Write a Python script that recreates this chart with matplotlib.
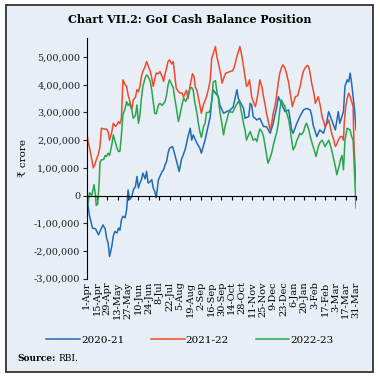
import numpy as np
import matplotlib
matplotlib.use("Agg")
import matplotlib.pyplot as plt
from matplotlib.patches import Rectangle
from matplotlib.ticker import FuncFormatter

# days counted from 1-Apr, values in lakh crore
tick_labels = ["1-Apr", "15-Apr", "29-Apr", "13-May", "27-May", "10-Jun", "24-Jun",
               "8-Jul", "22-Jul", "5-Aug", "19-Aug", "2-Sep", "16-Sep", "30-Sep",
               "14-Oct", "28-Oct", "11-Nov", "25-Nov", "9-Dec", "23-Dec", "6-Jan",
               "20-Jan", "3-Feb", "17-Feb", "3-Mar", "17-Mar", "31-Mar"]
tick_days = [0, 14, 28, 42, 56, 70, 84, 98, 112, 126, 140, 154, 168, 182, 196,
             210, 224, 238, 252, 266, 280, 294, 308, 322, 336, 350, 364]

days_2021 = [0, 2, 4, 8, 12, 16, 20, 22, 25, 27, 29, 31, 34, 36, 38, 41, 43, 45, 47, 49,
             52, 54, 56, 58, 61, 63, 66, 68, 70, 72, 74, 76, 79, 81, 83, 86, 88, 90, 92,
             94, 97, 99, 102, 104, 106, 108, 110, 112, 116, 118, 121, 125, 128, 133, 137,
             140, 142, 144, 149, 153, 155, 160, 162, 167, 169, 171, 174, 178, 180, 185,
             189, 194, 198, 203, 205, 207, 212, 214, 219, 221, 223, 225, 230, 234, 239,
             243, 248, 252, 257, 259, 263, 268, 273, 277, 279, 284, 288, 293, 297, 302,
             304, 306, 311, 315, 320, 324, 327, 331, 336, 340, 342, 347, 349, 352, 354,
             356, 358, 360, 362, 364]
vals_2021 = [0.3, -0.4, -0.75, -1.18, -1.2, -1.42, -1.18, -1.06, -1.2, -1.54, -1.71, -2.2,
             -1.83, -1.47, -1.3, -1.35, -1.18, -1.25, -0.88, -0.75, -0.8, -0.51, 0.2, -0.15,
             -0.05, 0.2, 0.33, 0.69, 0.27, 0.45, 0.57, 0.81, 0.6, 0.87, 0.45, 0.51, 0.57,
             0.27, 0.15, -0.08, 0.57, 0.69, 0.87, 0.93, 1.11, 1.23, 1.53, 1.71, 1.77, 1.59,
             1.29, 0.87, 1.29, 1.65, 2.13, 2.43, 2.0, 2.19, 1.89, 1.71, 1.53, 2.0, 2.25,
             2.85, 3.45, 3.82, 3.7, 3.57, 3.27, 2.97, 3.03, 3.09, 3.2, 3.82, 3.5, 3.4, 3.15,
             2.79, 2.85, 3.33, 3.27, 2.85, 2.73, 2.79, 2.49, 2.49, 2.25, 2.61, 3.21, 3.57,
             3.33, 3.03, 3.09, 2.37, 2.25, 2.61, 2.85, 3.09, 3.15, 3.09, 2.9, 2.55, 2.13,
             2.37, 2.25, 2.61, 3.03, 2.73, 2.37, 3.03, 2.61, 3.03, 3.94, 4.18, 4.1, 4.42,
             4.06, 3.57, 3.09, 2.37]

days_2122 = [0, 2, 4, 7, 9, 11, 13, 16, 18, 20, 24, 27, 29, 31, 34, 36, 39, 41, 43, 45,
             47, 49, 52, 54, 56, 58, 61, 63, 66, 68, 70, 72, 74, 76, 79, 81, 83, 86, 88,
             90, 92, 94, 97, 99, 102, 104, 106, 108, 110, 112, 115, 117, 119, 121, 124,
             126, 129, 131, 133, 135, 137, 140, 143, 145, 147, 149, 152, 155, 158, 162,
             165, 167, 169, 172, 174, 176, 178, 181, 183, 186, 188, 191, 194, 197, 199,
             201, 203, 205, 207, 210, 212, 214, 216, 218, 220, 223, 225, 228, 231, 234,
             237, 239, 241, 243, 246, 248, 250, 252, 255, 257, 259, 261, 263, 265, 268,
             270, 273, 275, 278, 280, 282, 285, 287, 289, 291, 293, 295, 298, 300, 302,
             304, 307, 309, 311, 313, 316, 318, 320, 322, 325, 327, 329, 331, 334, 336,
             338, 340, 343, 345, 347, 348, 350, 352, 354, 356, 358, 360, 361, 362, 364]
vals_2122 = [2.31, 1.95, 1.71, 1.3, 1.0, 1.1, 1.29, 1.5, 1.77, 2.43, 2.4, 2.4, 2.31, 2.0,
             2.3, 2.61, 2.5, 2.55, 2.67, 2.6, 2.79, 4.18, 4.0, 3.94, 3.63, 3.45, 3.1, 3.45,
             3.55, 3.82, 3.75, 3.94, 4.3, 4.48, 4.66, 4.84, 4.7, 4.48, 4.24, 3.94, 4.2,
             4.42, 4.4, 4.48, 4.3, 4.12, 4.4, 4.6, 4.84, 4.9, 4.75, 4.84, 4.36, 3.88, 3.75,
             3.7, 3.7, 3.55, 3.7, 3.8, 3.5, 4.0, 4.4, 4.3, 3.9, 3.8, 3.4, 2.97, 3.3, 3.57,
             3.9, 4.18, 4.96, 5.2, 5.38, 5.0, 4.78, 4.4, 4.06, 4.3, 4.42, 4.45, 4.48, 4.5,
             4.6, 4.8, 5.02, 5.2, 5.38, 5.0, 4.66, 4.3, 3.94, 4.0, 4.18, 3.57, 3.4, 3.21,
             3.6, 4.18, 3.9, 3.57, 3.3, 2.97, 2.6, 2.37, 2.6, 2.97, 3.3, 3.7, 4.1, 4.42,
             4.6, 4.72, 4.6, 4.42, 4.06, 3.7, 3.21, 3.4, 3.57, 3.6, 3.8, 4.0, 4.3, 4.5,
             4.6, 4.7, 4.66, 4.4, 4.06, 3.7, 3.33, 3.45, 3.57, 3.2, 2.85, 2.7, 2.49, 2.6,
             2.73, 2.5, 2.25, 2.0, 1.77, 1.85, 2.0, 2.13, 2.13, 2.0, 2.6, 3.21, 3.5, 3.7,
             3.57, 3.4, 3.21, 2.0, 1.4, 0.45]

days_2223 = [0, 2, 4, 7, 10, 12, 13, 15, 17, 18, 20, 23, 25, 27, 29, 31, 34, 36, 38, 41,
             43, 45, 47, 49, 52, 54, 56, 58, 61, 63, 66, 68, 70, 72, 74, 76, 79, 81, 83,
             86, 88, 90, 92, 94, 97, 99, 102, 104, 106, 108, 110, 112, 115, 117, 119, 121,
             124, 126, 129, 131, 134, 137, 140, 142, 144, 146, 149, 151, 153, 155, 158,
             160, 162, 165, 167, 169, 171, 174, 176, 178, 180, 183, 185, 187, 190, 192,
             194, 197, 199, 201, 203, 205, 207, 210, 212, 214, 216, 219, 221, 223, 225,
             228, 230, 232, 234, 237, 239, 242, 245, 247, 250, 252, 254, 257, 259, 261,
             263, 265, 268, 270, 273, 275, 277, 279, 282, 284, 286, 288, 290, 293, 295,
             297, 300, 302, 304, 306, 308, 310, 313, 315, 318, 320, 322, 325, 327, 329,
             331, 334, 336, 338, 341, 343, 345, 347, 349, 352, 354, 356, 358, 360, 362, 364]
vals_2223 = [0.33, -0.27, 0.1, 0.0, 0.39, 0.0, -0.36, -0.3, 0.5, 1.2, 1.29, 1.3, 1.45,
             1.41, 1.53, 1.45, 1.83, 2.19, 2.0, 1.71, 1.59, 1.6, 2.19, 2.91, 3.15, 3.39,
             3.25, 3.33, 3.09, 2.79, 2.9, 3.27, 2.61, 2.9, 3.51, 3.94, 4.24, 4.36, 4.3,
             4.12, 3.8, 3.39, 2.97, 2.95, 3.27, 3.33, 3.25, 3.33, 3.4, 3.63, 4.0, 4.18, 4.0,
             3.9, 3.51, 3.2, 2.67, 2.9, 3.3, 3.51, 3.4, 3.6, 3.88, 3.9, 3.8, 3.39, 2.97,
             2.6, 2.3, 2.1, 2.5, 2.6, 3.0, 3.0, 3.1, 3.4, 4.1, 4.15, 3.75, 3.5, 3.03, 2.55,
             2.19, 2.5, 2.79, 3.0, 3.03, 3.0, 3.1, 3.21, 3.3, 3.4, 3.3, 2.9, 2.6, 2.37,
             2.0, 2.2, 2.31, 2.15, 2.0, 2.05, 1.95, 2.2, 2.4, 2.3, 2.13, 1.65, 1.17, 1.3,
             1.53, 1.8, 2.0, 2.3, 2.61, 3.1, 3.45, 3.35, 3.21, 3.0, 2.73, 2.4, 2.0, 1.65,
             1.8, 2.0, 2.1, 2.25, 2.2, 2.3, 2.5, 2.61, 2.4, 2.13, 1.95, 1.77, 1.6, 1.41,
             1.77, 1.9, 2.0, 1.9, 1.77, 1.9, 2.0, 1.85, 1.65, 1.3, 1.05, 0.75, 1.05, 1.3,
             1.45, 0.93, 2.0, 2.43, 2.4, 2.37, 2.13, 2.0, 0.81, -0.45]

series = [("2020-21", days_2021, vals_2021, "#1f6cb4"),
          ("2021-22", days_2122, vals_2122, "#ee4a2e"),
          ("2022-23", days_2223, vals_2223, "#2aa54c")]

serif = ["DejaVu Serif", "DejaVu Sans"]
plt.rcParams["font.family"] = serif


def indian(v, pos=None):
    v = int(round(v))
    if v == 0:
        return "0"
    sign = "-" if v < 0 else ""
    s = str(abs(v))
    last3 = s[-3:]
    rest = s[:-3]
    parts = []
    while len(rest) > 2:
        parts.insert(0, rest[-2:])
        rest = rest[:-2]
    if rest:
        parts.insert(0, rest)
    return sign + ",".join(parts + [last3])


fig = plt.figure(figsize=(3.8, 3.77), dpi=100)
fig.patch.set_facecolor("white")
fig.patches.append(Rectangle((6 / 380, 5 / 377), 367 / 380, 367 / 377,
                             transform=fig.transFigure, facecolor="#e8eef6",
                             edgecolor="#333333", linewidth=1.3, zorder=-10))

ax = fig.add_axes([0.228, 0.261, 0.709, 0.639])
ax.set_zorder(2)
ax.set_facecolor("none")

for name, d, v, c in series:
    ax.plot(d, np.array(v) * 100000, color=c, lw=1.1, label=name)

ax.set_xlim(0, 364)
ax.set_ylim(-300000, 570000)
ax.set_yticks(np.arange(-300000, 500001, 100000))
ax.yaxis.set_major_formatter(FuncFormatter(indian))
ax.tick_params(axis="y", length=3, width=0.8, labelsize=7, pad=1.5, colors="#222222")

for s in ["top", "right"]:
    ax.spines[s].set_visible(False)
ax.spines["left"].set_linewidth(0.8)
ax.spines["bottom"].set_position(("data", 0))
ax.spines["bottom"].set_linewidth(0.8)
ax.set_xticks(tick_days)
ax.tick_params(axis="x", length=3, width=0.8, labelbottom=False, direction="out")

sec = ax.secondary_xaxis("bottom")
sec.set_xticks(tick_days)
sec.set_xticklabels(tick_labels, rotation=90, fontsize=7)
sec.tick_params(length=0, pad=2)
sec.spines["bottom"].set_visible(False)

ax.set_ylabel("₹ crore", fontsize=7.5, labelpad=4, family=serif)

fig.text(0.5, 0.947, "Chart VII.2: GoI Cash Balance Position", ha="center", va="center",
         fontsize=8, fontweight="bold")

fig.legend(loc="center", bbox_to_anchor=(0.5, 0.098), ncol=3, frameon=False,
           fontsize=7.5, handlelength=3.2, columnspacing=2.6, handletextpad=0.1)

fig.text(0.045, 0.05, "Source:", fontsize=6.5, fontweight="bold", va="center")
fig.text(0.155, 0.05, "RBI.", fontsize=6.5, va="center")

fig.savefig("out.png", dpi=100)
